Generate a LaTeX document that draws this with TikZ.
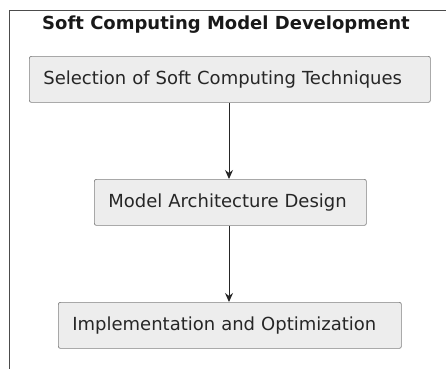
\documentclass[tikz,border=0pt]{standalone}
\usepackage{fontspec}
\setmainfont{DejaVu Sans}
\usetikzlibrary{arrows.meta}
\begin{document}
\begin{tikzpicture}[x=1pt,y=-1pt,
  stepbox/.style={draw=black!50, fill=black!7, rounded corners=2pt, line width=0.7pt,
    minimum height=46pt, inner xsep=14pt, inner ysep=0pt, align=left,
    font=\fontsize{18}{22}\selectfont, text=black!85, anchor=north west},
  flow/.style={-{Stealth[length=9pt,width=8pt]}, line width=1pt, black!85}]
\useasboundingbox (0,0) rectangle (446,368);
\draw[black!70, line width=1pt] (9,380) -- (9,10) -- (460,10);
\node[font=\bfseries\fontsize{18}{22}\selectfont, text=black!90, anchor=base] (title) at (226,29) {Soft Computing Model Development};
\node[stepbox, text width=373pt] (b1) at (29,56) {Selection of Soft Computing Techniques};
\node[stepbox, text width=244pt] (b2) at (94,179) {Model Architecture Design};
\node[stepbox, text width=315pt] (b3) at (58,302) {Implementation and Optimization};
\draw[flow] (b1.south -| 229,0) -- (b2.north -| 229,0);
\draw[flow] (b2.south -| 229,0) -- (b3.north -| 229,0);
\end{tikzpicture}
\end{document}
